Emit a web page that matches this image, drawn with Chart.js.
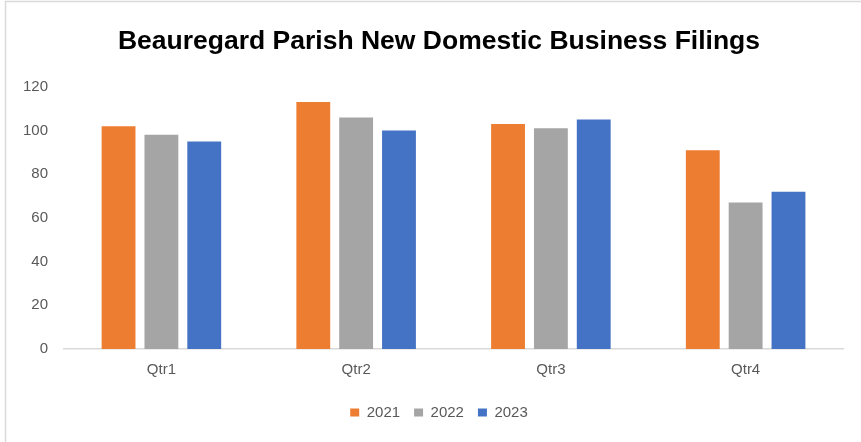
<!DOCTYPE html>
<html>
<head>
<meta charset="utf-8">
<script src="https://cdn.jsdelivr.net/npm/chart.js@4.4.1/dist/chart.umd.min.js"></script>
<style>
  html, body { margin: 0; padding: 0; background: #fff; }
  canvas { display: block; }
</style>
</head>
<body>
<canvas id="myChart" width="861" height="442"></canvas>
<script>
'use strict';

// Datos
const quarters = ['Qtr1', 'Qtr2', 'Qtr3', 'Qtr4'];
const filings2021 = [102, 113, 103, 91];
const filings2022 = [98, 106, 101, 67];
const filings2023 = [95, 100, 105, 72];
const yTicks = [0, 20, 40, 60, 80, 100, 120];

// Borde del área del gráfico (como en Excel); título y leyenda centrados en el lienzo
const chartBorder = {
  id: 'chartBorder',
  afterLayout(chart) {
    [chart.titleBlock, chart.legend].forEach(box => {
      if (box) {
        box.left += 14;
        box.right += 14;
      }
    });
  },
  beforeDraw(chart) {
    const c = chart.ctx;
    c.save();
    c.fillStyle = '#fff';
    c.fillRect(0, 0, chart.width, chart.height);
    c.strokeStyle = '#d9d9d9';
    c.lineWidth = 1.5;
    c.strokeRect(5.5, 1.5, chart.width + 20, chart.height + 20);
    c.restore();
  }
};

const ctx = document.getElementById('myChart').getContext('2d');
const myChart = new Chart(ctx, {
  type: 'bar',
  data: {
    labels: quarters,
    datasets: [
      { label: '2021', data: filings2021, backgroundColor: '#ed7d31' },
      { label: '2022', data: filings2022, backgroundColor: '#a5a5a5' },
      { label: '2023', data: filings2023, backgroundColor: '#4472c4' }
    ]
  },
  options: {
    responsive: false,
    animation: false,
    categoryPercentage: 0.66,
    barPercentage: 0.79,
    layout: { padding: { left: 7, right: 18, top: 0, bottom: 12 } },
    plugins: {
      title: {
        display: true,
        text: 'Beauregard Parish New Domestic Business Filings',
        color: '#000',
        font: { family: 'Liberation Sans, Arial', size: 26.5, weight: 'bold' },
        padding: { top: 26, bottom: 29 }
      },
      legend: {
        position: 'bottom',
        labels: {
          boxWidth: 9,
          boxHeight: 8,
          padding: 14,
          color: '#595959',
          font: { family: 'Liberation Sans, Arial', size: 15 }
        }
      },
      tooltip: { enabled: false }
    },
    scales: {
      x: {
        grid: { display: false, drawTicks: false },
        border: { display: true, color: '#d9d9d9', width: 1.5 },
        ticks: {
          color: '#595959',
          padding: 12,
          font: { family: 'Liberation Sans, Arial', size: 15 }
        }
      },
      y: {
        min: 0,
        max: 120,
        afterBuildTicks: axis => { axis.ticks = yTicks.map(v => ({ value: v })); },
        grid: { display: false, drawTicks: false },
        border: { display: false },
        ticks: {
          color: '#595959',
          padding: 16,
          font: { family: 'Liberation Sans, Arial', size: 15 }
        }
      }
    }
  },
  plugins: [chartBorder]
});
</script>
</body>
</html>
